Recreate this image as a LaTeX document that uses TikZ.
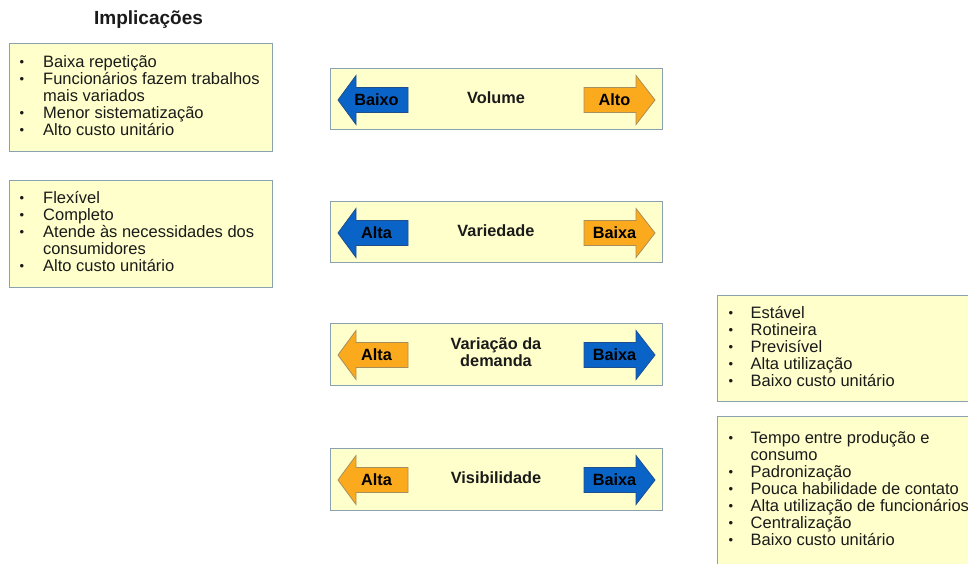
\documentclass[tikz,border=0pt]{standalone}
\usepackage{fontspec}
\setmainfont{Liberation Sans}
\definecolor{boxfill}{HTML}{FFFFCC}
\definecolor{boxline}{HTML}{8AA1B1}
\definecolor{arrblue}{HTML}{0A64C8}
\definecolor{arrblueedge}{HTML}{1F4E8C}
\definecolor{arrorange}{HTML}{FBAA1E}
\definecolor{arrorangeedge}{HTML}{A88E5C}
\definecolor{ink}{HTML}{1A1A1A}

% arrow pointing left: tail at x=408, tip at x=338, centred on y=#1
\newcommand\westarrow[3]{%
  \filldraw[fill=#2,draw=#3,line width=0.8pt]
    (408,#1-12.5) -- (356,#1-12.5) -- (356,#1-24.5) -- (338,#1)
    -- (356,#1+24.5) -- (356,#1+12.5) -- (408,#1+12.5) -- cycle;}
% arrow pointing right: tail at x=584, tip at x=655
\newcommand\eastarrow[3]{%
  \filldraw[fill=#2,draw=#3,line width=0.8pt]
    (584,#1-12.5) -- (636,#1-12.5) -- (636,#1-24.5) -- (655,#1)
    -- (636,#1+24.5) -- (636,#1+12.5) -- (584,#1+12.5) -- cycle;}

\tikzset{
  panel/.style={draw=boxline, fill=boxfill, line width=1pt, inner sep=0pt,
    anchor=north west},
  itemtxt/.style={anchor=base west, inner sep=0pt, text=ink,
    font=\fontsize{16.5}{17}\selectfont},
  dotmark/.style={anchor=base, inner sep=0pt, text=ink,
    font=\fontsize{13}{17}\selectfont},
  rowlabel/.style={anchor=base, inner sep=0pt, text=ink, align=center,
    font=\fontsize{16.3}{17}\selectfont\bfseries},
  arrtxt/.style={anchor=base, inner sep=0pt, text=black,
    font=\fontsize{16.3}{17}\selectfont\bfseries},
}
\newcommand\bul{\raisebox{1pt}{\textbullet}}

\begin{document}
\begin{tikzpicture}[x=1pt,y=-1pt]
\useasboundingbox (0,0) rectangle (968,563);
\clip (0,0) rectangle (968,563);
\fill[white] (0,0) rectangle (968,563);

% heading
\node[anchor=base, inner sep=0pt, text=ink,
      font=\fontsize{19}{20}\selectfont\bfseries] (head) at (148.5,24) {Implicações};

% left panels
\node[panel, minimum width=263, minimum height=108] (impA) at (9,43) {};
\node[panel, minimum width=263, minimum height=107] (impB) at (9,180) {};

\foreach \y/\n in {67/a1,84/a2,118/a4,135/a5}
  \node[dotmark] (d\n) at (22,\y) {\bul};
\node[itemtxt] (ta1) at (43,67)  {Baixa repetição};
\node[itemtxt] (ta2) at (43,84)  {Funcionários fazem trabalhos};
\node[itemtxt] (ta3) at (43,101) {mais variados};
\node[itemtxt] (ta4) at (43,118) {Menor sistematização};
\node[itemtxt] (ta5) at (43,135) {Alto custo unitário};

\foreach \y/\n in {203/b1,220/b2,237/b3,271/b5}
  \node[dotmark] (d\n) at (22,\y) {\bul};
\node[itemtxt] (tb1) at (43,203) {Flexível};
\node[itemtxt] (tb2) at (43,220) {Completo};
\node[itemtxt] (tb3) at (43,237) {Atende às necessidades dos};
\node[itemtxt] (tb4) at (43,254) {consumidores};
\node[itemtxt] (tb5) at (43,271) {Alto custo unitário};

% central rows
\node[panel, minimum width=332, minimum height=61] (rowA) at (330,68) {};
\node[panel, minimum width=332, minimum height=61] (rowB) at (330,201) {};
\node[panel, minimum width=332, minimum height=62] (rowC) at (330,323) {};
\node[panel, minimum width=332, minimum height=62] (rowD) at (330,448) {};

\westarrow{100}{arrblue}{arrblueedge}
\eastarrow{100}{arrorange}{arrorangeedge}
\westarrow{233}{arrblue}{arrblueedge}
\eastarrow{233}{arrorange}{arrorangeedge}
\westarrow{355}{arrorange}{arrorangeedge}
\eastarrow{355}{arrblue}{arrblueedge}
\westarrow{480}{arrorange}{arrorangeedge}
\eastarrow{480}{arrblue}{arrblueedge}

\node[arrtxt] (loA) at (376.5,105) {Baixo};
\node[arrtxt] (hiA) at (614.5,105) {Alto};
\node[arrtxt] (loB) at (376.5,238) {Alta};
\node[arrtxt] (hiB) at (614.5,238) {Baixa};
\node[arrtxt] (loC) at (376.5,360) {Alta};
\node[arrtxt] (hiC) at (614.5,360) {Baixa};
\node[arrtxt] (loD) at (376.5,485) {Alta};
\node[arrtxt] (hiD) at (614.5,485) {Baixa};

\node[rowlabel] (labA) at (496,103) {Volume};
\node[rowlabel] (labB) at (496,236) {Variedade};
\node[rowlabel] (labC1) at (496,349) {Variação da};
\node[rowlabel] (labC2) at (496,366) {demanda};
\node[rowlabel] (labD) at (496,483) {Visibilidade};

% right panels
\node[panel, minimum width=270, minimum height=106] (impC) at (717,295) {};
\node[panel, minimum width=270, minimum height=160] (impD) at (717,416) {};

\foreach \y/\n in {318/c1,335/c2,352/c3,369/c4,386/c5}
  \node[dotmark] (d\n) at (731,\y) {\bul};
\node[itemtxt] (tc1) at (750.5,318) {Estável};
\node[itemtxt] (tc2) at (750.5,335) {Rotineira};
\node[itemtxt] (tc3) at (750.5,352) {Previsível};
\node[itemtxt] (tc4) at (750.5,369) {Alta utilização};
\node[itemtxt] (tc5) at (750.5,386) {Baixo custo unitário};

\foreach \y/\n in {443/e1,477/e3,494/e4,511/e5,528/e6,545/e7}
  \node[dotmark] (d\n) at (731,\y) {\bul};
\node[itemtxt] (te1) at (750.5,443) {Tempo entre produção e};
\node[itemtxt] (te2) at (750.5,460) {consumo};
\node[itemtxt] (te3) at (750.5,477) {Padronização};
\node[itemtxt] (te4) at (750.5,494) {Pouca habilidade de contato};
\node[itemtxt] (te5) at (750.5,511) {Alta utilização de funcionários};
\node[itemtxt] (te6) at (750.5,528) {Centralização};
\node[itemtxt] (te7) at (750.5,545) {Baixo custo unitário};
\end{tikzpicture}
\end{document}
